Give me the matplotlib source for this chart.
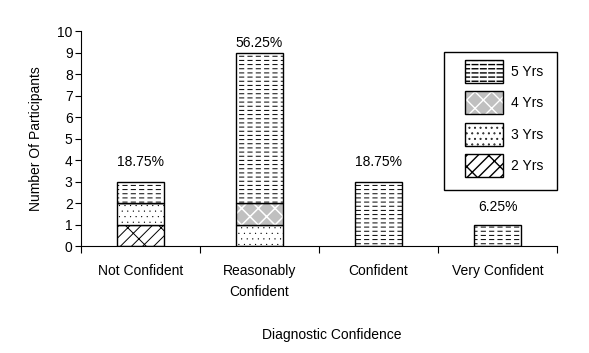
import matplotlib
matplotlib.use("Agg")
import matplotlib.pyplot as plt
import matplotlib.hatch as mhatch
import numpy as np
from matplotlib.patches import Patch, Rectangle

plt.rcParams['font.family'] = ['Liberation Sans', 'DejaVu Sans']
mhatch.SmallFilledCircles.size = 0.06

categories = ["Not Confident", "Reasonably\nConfident", "Confident", "Very Confident"]
series_names = ["2 Yrs", "3 Yrs", "4 Yrs", "5 Yrs"]
yrs2 = [1, 0, 0, 0]
yrs3 = [1, 1, 0, 0]
yrs4 = [0, 1, 0, 0]
yrs5 = [1, 7, 3, 1]
pct_labels = ["18.75%", "56.25%", "18.75%", "6.25%"]
pct_label_y = [3.9, 9.45, 3.9, 1.8]

series = [yrs2, yrs3, yrs4, yrs5]
# layers: (facecolor, hatch, hatch colour, hatch linewidth)
styles = [
    [("white", "///\\", "black", 0.7)],
    [("white", "...", "black", 0.4)],
    [("#c0c0c0", "xx", "white", 1.1)],
    [("white", "----", "black", 0.7), ("none", "||", "white", 2.3)],
]


def make_layer(factory, face, hatch, hcol, hlw):
    with plt.rc_context({"hatch.linewidth": hlw}):
        out = factory(face, hatch, hcol)
    arts = out if isinstance(out, (list, tuple)) or hasattr(out, "patches") else [out]
    for p in arts:
        if hasattr(p, "set_hatch_linewidth"):
            p.set_hatch_linewidth(hlw)
    return out


fig = plt.figure(figsize=(5.89, 3.53), dpi=100)
ax = fig.add_axes([0.1375, 0.3031, 0.8082, 0.609])

x = np.arange(len(categories))
width = 0.4
bottom = np.zeros(len(categories))
handles = []
for vals, layers, name in zip(series, styles, series_names):
    v = np.array(vals, dtype=float)
    for face, hatch, hcol, hlw in layers:
        make_layer(lambda f, h, c: ax.bar(x, v, width, bottom=bottom, color=f, hatch=h,
                                          edgecolor=c, linewidth=0),
                   face, hatch, hcol, hlw)
    ax.bar(x, v, width, bottom=bottom, fill=False, edgecolor="black", linewidth=1)
    hparts = []
    for face, hatch, hcol, hlw in layers:
        hparts.append(make_layer(lambda f, h, c: Patch(facecolor=f, hatch=h, edgecolor=c, linewidth=0),
                                 face, hatch, hcol, hlw))
    hparts.append(Patch(fill=False, edgecolor="black", linewidth=1))
    handles.append(tuple(hparts))
    bottom += v

for xi, lab, ly in zip(x, pct_labels, pct_label_y):
    ax.text(xi, ly, lab, ha="center", va="center", fontsize=10)

ax.set_xlim(-0.5, len(categories) - 0.5)
ax.set_ylim(0, 10)
ax.set_yticks(range(0, 11))
ax.set_xticks(np.arange(-0.5, len(categories), 1.0))
ax.set_xticklabels([])
ax.set_xticks(x, minor=True)
ax.set_xticklabels(categories, minor=True, fontsize=10, linespacing=1.6)
ax.tick_params(axis="x", which="minor", length=0, pad=13)
ax.tick_params(axis="x", which="major", length=5, direction="out")
ax.tick_params(axis="y", length=4, direction="out", labelsize=10, pad=2)
ax.spines["top"].set_visible(False)
ax.spines["right"].set_visible(False)
ax.set_ylabel("Number Of Participants", fontsize=10)
ax.yaxis.set_label_coords(-0.08, 0.5)
ax.set_xlabel("Diagnostic Confidence", fontsize=10)
ax.xaxis.set_label_coords(0.527, -0.38)

W, H = 589.0, 353.0
# legend frame
fig.patches.append(Rectangle((444 / W, 1 - 190 / H), (557 - 444) / W, (190 - 52) / H,
                             transform=fig.transFigure, fill=True, facecolor="white",
                             edgecolor="black", linewidth=1, zorder=5))
leg = fig.legend(handles[::-1], series_names[::-1], loc="upper left",
                 bbox_to_anchor=(465 / W, 1 - 60 / H), frameon=False,
                 fontsize=10, handlelength=2.75, handleheight=2.17,
                 labelspacing=0.61, borderpad=0.0, borderaxespad=0.0,
                 handletextpad=0.55)
leg.set_zorder(6)

fig.savefig("out.png", dpi=100)
